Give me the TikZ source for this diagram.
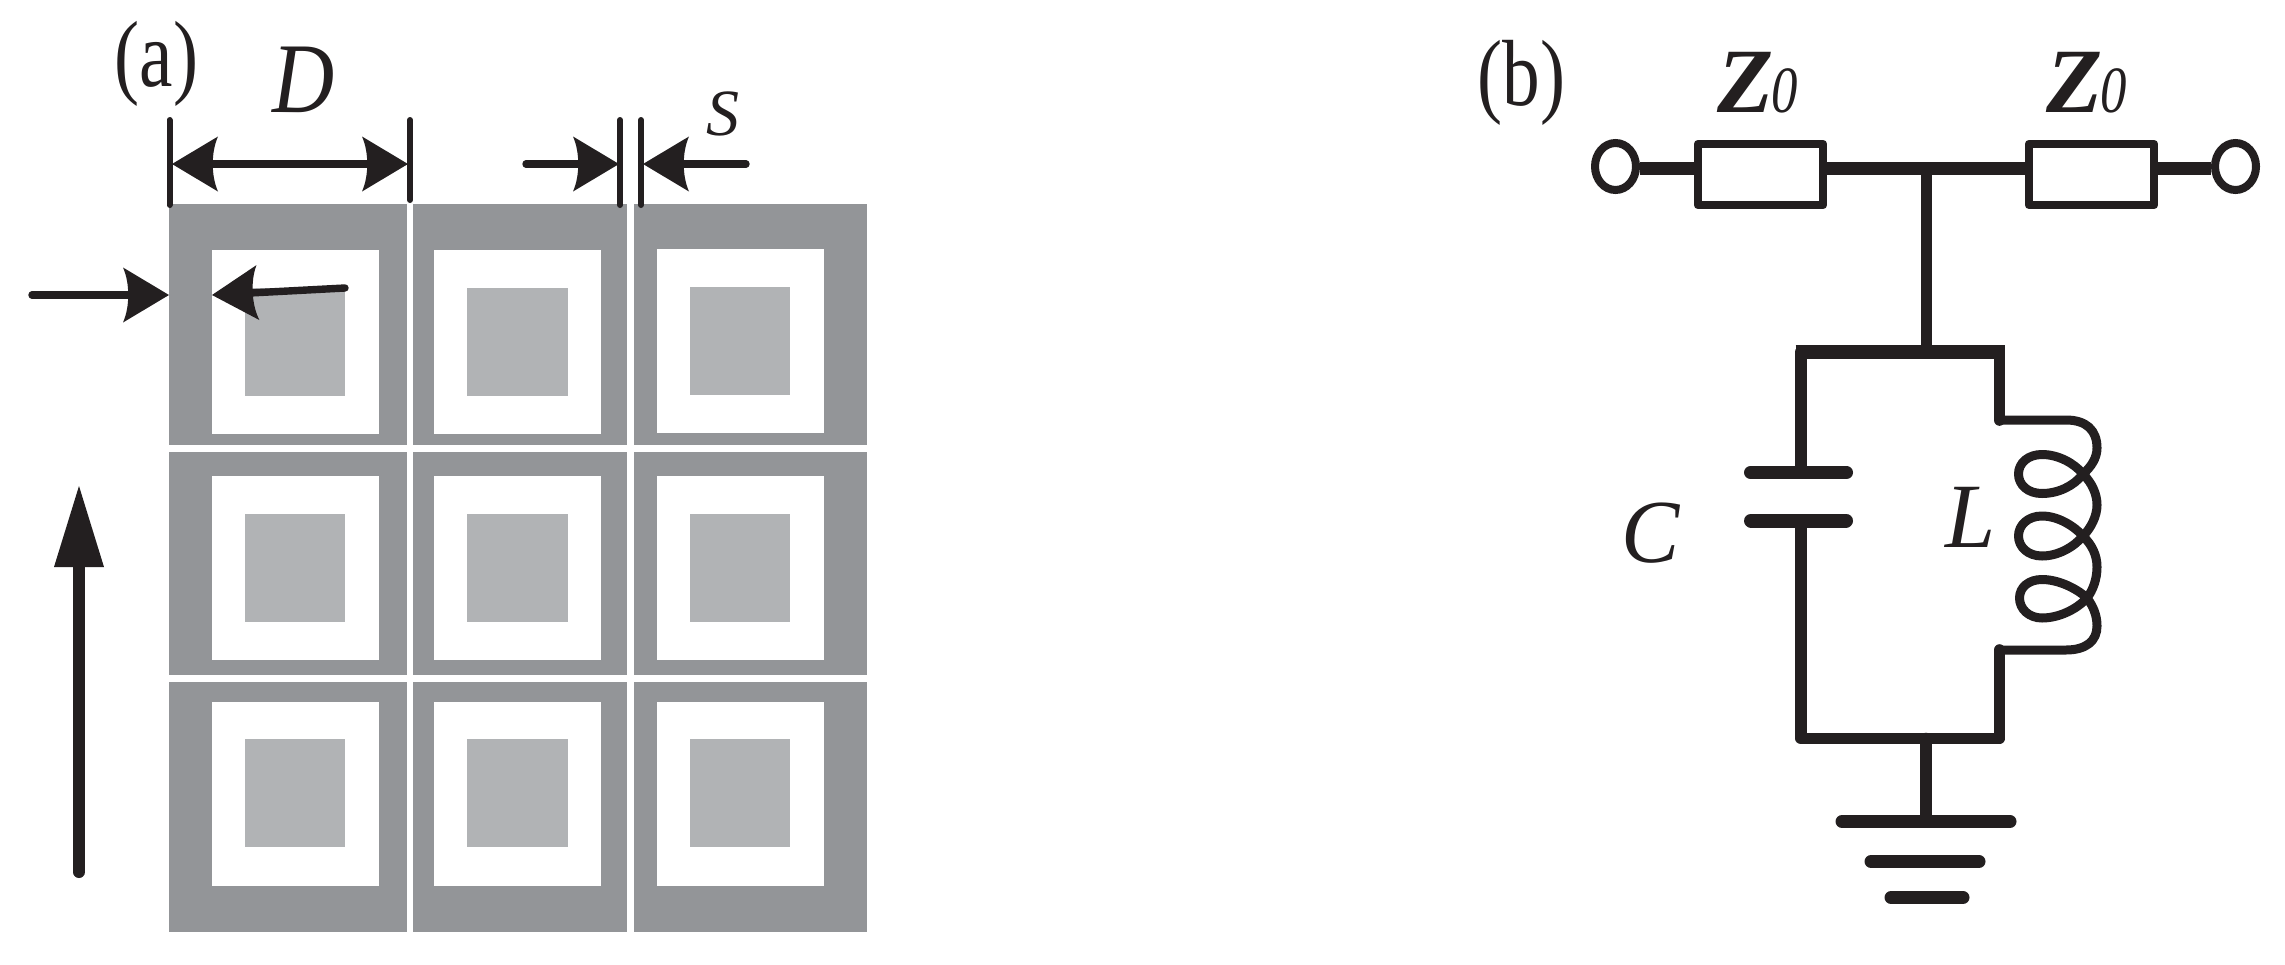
\documentclass[tikz,border=0pt]{standalone}
\usepackage{fontspec}
\setmainfont{Liberation Serif}
\usetikzlibrary{arrows.meta,shapes.geometric}
\definecolor{ink}{HTML}{231F20}
\definecolor{metal}{HTML}{939598}
\definecolor{patch}{HTML}{B1B3B5}
\pgfdeclarearrow{
  name=DimHead,
  setup code={\pgfarrowssettipend{0pt}\pgfarrowssetbackend{-23pt}\pgfarrowssetlineend{-20pt}},
  drawing code={
    \pgfsetfillcolor{ink}
    \pgfpathmoveto{\pgfqpoint{0pt}{0pt}}
    \pgfpathlineto{\pgfqpoint{-23pt}{13.75pt}}
    \pgfpathcurveto{\pgfqpoint{-19.5pt}{6pt}}{\pgfqpoint{-19.5pt}{-6pt}}{\pgfqpoint{-23pt}{-13.75pt}}
    \pgfpathclose
    \pgfusepathqfill
  }
}
\tikzset{
  outercell/.style={fill=metal,draw=none},
  gapcell/.style={fill=white,draw=none},
  innercell/.style={fill=patch,draw=none},
  txt/.style={inner sep=0pt,outer sep=0pt,text=ink},
  tick/.style={draw=ink,line width=3pt,line cap=round},
  dimline/.style={draw=ink,line width=3.7pt,line cap=round},
  dimhead/.style={-{DimHead}},
  dimboth/.style={{DimHead}-{DimHead}},
  bigarrow/.style={draw=ink,line width=6pt,line cap=round,-{Triangle[length=40.5pt,width=25pt,line width=0pt,fill=ink]}},
  zbox/.style={draw=ink,line width=4.2pt,line join=round,minimum width=62.5pt,minimum height=30.5pt,inner sep=0pt,outer sep=0pt},
  terminal/.style={ellipse,draw=ink,line width=4pt,minimum width=20.5pt,minimum height=23.5pt,inner sep=0pt,outer sep=2pt},
  wirethick/.style={draw=ink,line width=6.5pt},
  wire/.style={draw=ink,line width=5.8pt,line cap=round,line join=round},
  coilwire/.style={draw=ink,line width=4.5pt,line cap=round,line join=round},
  plate/.style={draw=ink,line width=6.5pt,line cap=round}
}
\newcommand{\cellrow}[7]{%
  \fill[outercell] (169,#1) rectangle (407,#2);
  \fill[outercell] (413,#1) rectangle (627,#2);
  \fill[outercell] (634,#1) rectangle (867,#2);
  \fill[gapcell] (212,#3) rectangle (379,#4);
  \fill[gapcell] (434,#3) rectangle (601,#4);
  \fill[gapcell] (657,#6) rectangle (824,#7);
  \fill[innercell] (245,#5) rectangle +(100,108);
  \fill[innercell] (467,#5) rectangle +(101,108);
}
\begin{document}
\begin{tikzpicture}[x=.5pt,y=-.5pt]
\useasboundingbox[fill=white] (0,0) rectangle (2285,964);
% ---------- panel (a)
\cellrow{204}{445}{250}{434}{288}{249}{433}
\fill[innercell] (690,287) rectangle +(100,108);
\cellrow{452}{675}{476}{660}{514}{476}{660}
\fill[innercell] (690,514) rectangle +(100,108);
\cellrow{682}{932}{702}{886}{739}{702}{886}
\fill[innercell] (690,739) rectangle +(100,108);

\node[txt] (la) at (156.5,64) {\fontsize{47}{50}\selectfont\scalebox{.8}[1]{(a)}};
\node[txt] (lD) at (303.5,80) {\fontsize{50}{54}\selectfont\itshape\scalebox{.86}[1]{D}};
\node[txt] (ls) at (722.5,114) {\fontsize{33}{36}\selectfont\itshape S};

\coordinate (t1a) at (169.5,120); \coordinate (t1b) at (169.5,205);
\coordinate (t2a) at (410,120);   \coordinate (t2b) at (410,200);
\coordinate (t3a) at (620,120);   \coordinate (t3b) at (620,205);
\coordinate (t4a) at (641,120);   \coordinate (t4b) at (641,205);
\draw[tick] (t1a) -- (t1b);
\draw[tick] (t2a) -- (t2b);
\draw[tick] (t3a) -- (t3b);
\draw[tick] (t4a) -- (t4b);

\coordinate (dl) at (172,164); \coordinate (dr) at (408,164);
\draw[dimline,dimboth,line cap=butt] (dl) -- (dr);
\coordinate (sl0) at (526,164); \coordinate (sl1) at (619,164);
\coordinate (sr0) at (746,164); \coordinate (sr1) at (643,164);
\draw[dimline,dimhead] (sl0) -- (sl1);
\draw[dimline,dimhead] (sr0) -- (sr1);
\coordinate (wl0) at (32,295); \coordinate (wl1) at (169,295);
\coordinate (wr0) at (345,288); \coordinate (wr1) at (212,295);
\draw[dimline,dimhead] (wl0) -- (wl1);
\draw[dimline,dimhead] (wr0) -- (wr1);
\coordinate (up0) at (79,872); \coordinate (up1) at (79,486);
\draw[bigarrow] (up0) -- (up1);

% ---------- panel (b)
\node[txt] (lb) at (1521.5,82.5) {\fontsize{47}{50}\selectfont\scalebox{.8}[1]{(b)}};
\node[txt,anchor=base west] (zl1) at (1717,112) {\fontsize{46}{48}\selectfont\bfseries\itshape Z\hspace{-1pt}\mdseries\fontsize{33}{36}\selectfont\scalebox{.8}[1]{0}};
\node[txt,anchor=base west] (zl2) at (2046,112) {\fontsize{46}{48}\selectfont\bfseries\itshape Z\hspace{-1pt}\mdseries\fontsize{33}{36}\selectfont\scalebox{.8}[1]{0}};
\node[txt] (lC) at (1650.5,533) {\fontsize{45}{48}\selectfont\itshape\scalebox{.97}[1]{C}};
\node[txt] (lL) at (1971,517) {\fontsize{46}{50}\selectfont\itshape\scalebox{.98}[1]{L}};

\node[terminal] (p1) at (1615.5,166.5) {};
\node[terminal] (p2) at (2235.5,166.5) {};
\node[zbox] (z1) at (1760.5,174.5) {};
\node[zbox] (z2) at (2091.5,174.5) {};
\coordinate (jn) at (1926.5,168.5);
\draw[wirethick] (p1.east |- jn) -- (z1.west |- jn);
\draw[wirethick] (z1.east |- jn) -- (z2.west |- jn);
\draw[wirethick] (z2.east |- jn) -- (p2.west |- jn);

\coordinate (tb) at (1926.5,352);
\coordinate (barL) at (1795.5,352);
\coordinate (barR) at (2005,352);
\coordinate (tl) at (1801,352);
\coordinate (tr) at (1999.5,352);
\coordinate (bl) at (1801,738.5);
\coordinate (br) at (1999.5,738.5);
\coordinate (bm) at (1926,738.5);
\coordinate (capA) at (1801,472.5);
\coordinate (capB) at (1801,520.5);
\coordinate (ci) at (1999.5,420);
\coordinate (co) at (1999.5,650);
\coordinate (g1) at (1926,821.5);
\draw[wire] (jn) -- (tb);
\draw[draw=ink,line width=7pt] (barL) -- (barR);
\draw[wire] (tl) -- (capA);
\draw[wire] (capB) -- (bl) -- (br) -- (co);
\draw[wire] (tr) -- (ci);
\draw[wire] (bm) -- (g1);
\draw[plate] (1750.5,472.5) coordinate (ca1) -- (1846.5,472.5) coordinate (ca2);
\draw[plate,line width=7pt] (1751,520.5) coordinate (cb1) -- (1846,520.5) coordinate (cb2);
\draw[plate] (1842,821.5) coordinate (ga1) -- (2010,821.5) coordinate (ga2);
\draw[plate] (1871,861.5) coordinate (gb1) -- (1979,861.5) coordinate (gb2);
\draw[plate] (1891,897.5) coordinate (gc1) -- (1963,897.5) coordinate (gc2);
% inductor
\draw[coilwire] (ci) -- (2066,420)
  .. controls (2086,420) and (2097,430) .. (2097,448)
  .. controls (2097,458) and (2091,467) .. (2083,474)
  .. controls (2074,463) and (2058,454.5) .. (2042,454.5)
  .. controls (2028,454.5) and (2018.5,463) .. (2018.5,474)
  .. controls (2018.5,485) and (2028,493.5) .. (2042,493.5)
  .. controls (2058,493.5) and (2074,486) .. (2083,474)
  .. controls (2092,483) and (2097,494) .. (2097,505)
  .. controls (2097,516) and (2091,528) .. (2083,536)
  .. controls (2074,526) and (2058,516) .. (2042,516)
  .. controls (2028,516) and (2018.5,525) .. (2018.5,536)
  .. controls (2018.5,547) and (2028,556) .. (2042,556)
  .. controls (2058,556) and (2074,547) .. (2083,536)
  .. controls (2092,545) and (2097,555) .. (2097,567)
  .. controls (2097,579) and (2093,590) .. (2087,598)
  .. controls (2076,588) and (2058,579.5) .. (2042,579.5)
  .. controls (2029,579.5) and (2019.5,587) .. (2019.5,598)
  .. controls (2019.5,609) and (2029,618) .. (2042,618)
  .. controls (2058,618) and (2076,610) .. (2087,598)
  .. controls (2093,606) and (2097,615) .. (2097,626)
  .. controls (2097,641) and (2086,650) .. (2066,650)
  -- (co);
\end{tikzpicture}
\end{document}
